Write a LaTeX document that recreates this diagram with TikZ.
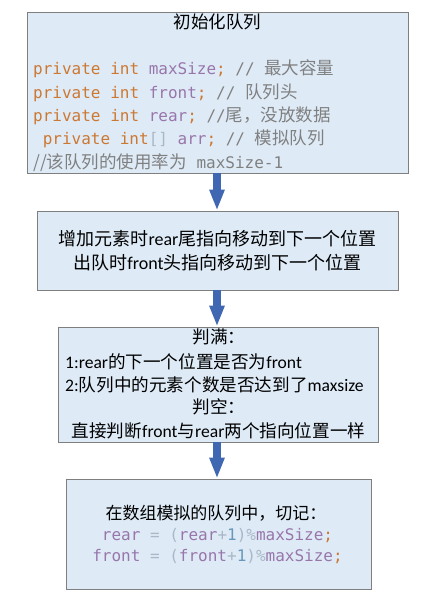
\documentclass[tikz,border=0pt]{standalone}
\usepackage{fontspec}
\setmainfont{Carlito}
\newfontfamily\cjk{Noto Sans CJK SC}
\newfontfamily\mono{DejaVu Sans Mono}
\usetikzlibrary{arrows.meta}
\definecolor{boxfill}{HTML}{DEEBF7}
\definecolor{boxline}{HTML}{7F7F7F}
\definecolor{kwc}{HTML}{CC7832}
\definecolor{fldc}{HTML}{9876AA}
\definecolor{cmtc}{HTML}{808080}
\definecolor{plainc}{HTML}{A9B7C6}
\definecolor{numc}{HTML}{6897BB}
\definecolor{arrowblue}{HTML}{4068B2}
\newcommand\ckw[1]{\textcolor{kwc}{#1}}
\newcommand\cfld[1]{\textcolor{fldc}{#1}}
\newcommand\ccmt[1]{\textcolor{cmtc}{#1}}
\newcommand\cpl[1]{\textcolor{plainc}{#1}}
\newcommand\cnum[1]{\textcolor{numc}{#1}}
\newcommand\zh[1]{{\cjk #1}}
\newcommand\zhc[1]{{\cjk\fontsize{17.5}{17.5}\selectfont #1}}
\tikzset{
  box/.style={draw=boxline, fill=boxfill, line width=0.8pt, inner sep=0pt},
  flow/.style={line width=8pt, draw=arrowblue, -{Triangle[length=21pt,width=14pt]}},
  code/.style={inner sep=0pt, font=\mono\fontsize{16}{16}\selectfont},
  zhtitle/.style={inner sep=0pt, font=\cjk\fontsize{17.5}{17.5}\selectfont},
  txtb/.style={inner sep=0pt, font=\fontsize{18}{18}\selectfont},
  txtc/.style={inner sep=0pt, font=\fontsize{17.6}{17.6}\selectfont},
  txtd/.style={inner sep=0pt, font=\fontsize{17}{17}\selectfont},
}
\begin{document}
\begin{tikzpicture}[x=1pt,y=-1pt]
\useasboundingbox (0,0) rectangle (432,606);
\fill[white] (0,0) rectangle (432,606);
% boxes
\node[box, minimum width=381pt, minimum height=161pt] (b1) at (217.5,92.5) {};
\node[box, minimum width=361pt, minimum height=79pt] (b2) at (217.5,250.5) {};
\node[box, minimum width=320pt, minimum height=115pt] (b3) at (218,384.5) {};
\node[box, minimum width=305pt, minimum height=110pt] (b4) at (218.5,534) {};
% arrows
\coordinate (ax) at (217,0);
\draw[flow] (b1.south -| ax) -- (b2.north -| ax);
\draw[flow] (b2.south -| ax) -- (b3.north -| ax);
\draw[flow] (b3.south -| ax) -- (b4.north -| ax);
% box 1
\node[zhtitle, anchor=base] (t1) at (217.5,28.5) {初始化队列};
\node[code, anchor=base west] (c1) at (33,74.5) {\ckw{private int} \cfld{maxSize}\ckw{;} \ccmt{// \zhc{最大容量}}};
\node[code, anchor=base west] (c2) at (33,98.5) {\ckw{private int} \cfld{front}\ckw{;} \ccmt{// \zhc{队列头}}};
\node[code, anchor=base west] (c3) at (33,121.5) {\ckw{private int} \cfld{rear}\ckw{;} \ccmt{//\zhc{尾，没放数据}}};
\node[code, anchor=base west] (c4) at (42.6,144.5) {\ckw{private int}\cpl{[]} \cfld{arr}\ckw{;} \ccmt{// \zhc{模拟队列}}};
\node[code, anchor=base west] (c5) at (33,168.5) {\ccmt{\zhc{//该队列的使用率为} maxSize-1}};
% box 2
\node[txtb, anchor=base] (t2a) at (217.5,245) {\zh{增加元素时}rear\zh{尾指向移动到下一个位置}};
\node[txtb, anchor=base] (t2b) at (217.5,269) {\zh{出队时}front\zh{头指向移动到下一个位置}};
% box 3
\node[txtc, anchor=base] (t3a) at (219,343) {\zh{判满：}};
\node[txtc, anchor=base west] (t3b) at (65,368) {1:rear\zh{的下一个位置是否为}front};
\node[txtc, anchor=base west] (t3c) at (65,391.5) {2:\zh{队列中的元素个数是否达到了}maxsize};
\node[txtc, anchor=base] (t3d) at (219,413) {\zh{判空：}};
\node[txtc, anchor=base] (t3e) at (218.5,437.5) {\zh{直接判断}front\zh{与}rear\zh{两个指向位置一样}};
% box 4
\node[txtd, anchor=base] (t4a) at (216,519) {\zh{在数组模拟的队列中，切记：}};
\node[code, anchor=base] (t4b) at (217.5,540) {\cfld{rear} \cpl{= (}\cfld{rear}\cpl{+}\cnum{1}\cpl{)\%}\cfld{maxSize}\ckw{;}};
\node[code, anchor=base] (t4c) at (217.5,561) {\cfld{front} \cpl{= (}\cfld{front}\cpl{+}\cnum{1}\cpl{)\%}\cfld{maxSize}\ckw{;}};
\end{tikzpicture}
\end{document}
